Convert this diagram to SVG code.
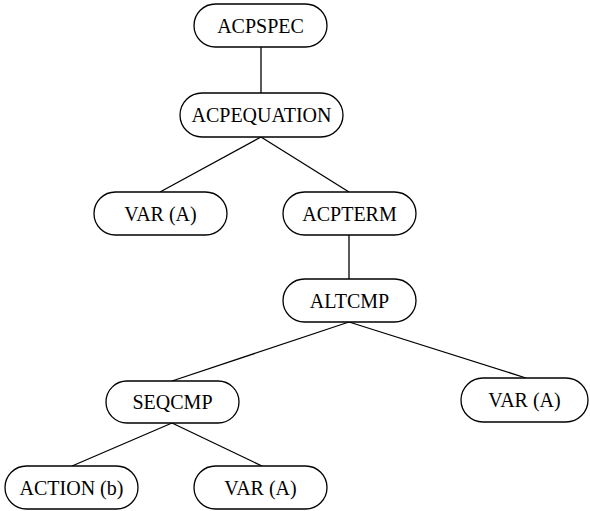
<svg xmlns="http://www.w3.org/2000/svg" width="590" height="511" viewBox="0 0 590 511">
<style>
.n rect{fill:#fff;stroke:#000;stroke-width:1.3}
.n text{font-family:"Liberation Serif",serif;font-size:20px;text-anchor:middle;dominant-baseline:central;fill:#000}
#edges line{stroke:#000;stroke-width:1.3}
</style>
<rect width="590" height="511" fill="#fff"/>
<g id="edges">
<line x1="261" y1="47" x2="261" y2="93"/>
<line x1="261" y1="137" x2="160" y2="192"/>
<line x1="261" y1="137" x2="349" y2="192"/>
<line x1="349" y1="235" x2="349" y2="279"/>
<line x1="349" y1="322" x2="172" y2="381"/>
<line x1="349" y1="322" x2="526" y2="378"/>
<line x1="172" y1="423" x2="72" y2="466"/>
<line x1="172" y1="423" x2="262" y2="466"/>
</g>
<g id="acpspec" class="n"><rect x="194" y="4" width="133" height="43" rx="21.5"/><text x="260.5" y="26">ACPSPEC</text></g>
<g id="acpequation" class="n"><rect x="180" y="93" width="163" height="44" rx="22"/><text x="261.5" y="115">ACPEQUATION</text></g>
<g id="varA1" class="n"><rect x="94" y="192" width="133" height="43" rx="21.5"/><text x="160.5" y="214">VAR (A)</text></g>
<g id="acpterm" class="n"><rect x="283" y="192" width="133" height="43" rx="21.5"/><text x="349.5" y="214">ACPTERM</text></g>
<g id="altcmp" class="n"><rect x="283" y="279" width="133" height="43" rx="21.5"/><text x="349.5" y="301">ALTCMP</text></g>
<g id="seqcmp" class="n"><rect x="106" y="381" width="133" height="42" rx="21"/><text x="172.5" y="402">SEQCMP</text></g>
<g id="varA2" class="n"><rect x="461" y="378" width="127" height="44" rx="22"/><text x="524.5" y="400">VAR (A)</text></g>
<g id="action" class="n"><rect x="5" y="466" width="133" height="43" rx="21.5"/><text x="71.5" y="488">ACTION (b)</text></g>
<g id="varA3" class="n"><rect x="194" y="466" width="133" height="43" rx="21.5"/><text x="260.5" y="488">VAR (A)</text></g>
</svg>
